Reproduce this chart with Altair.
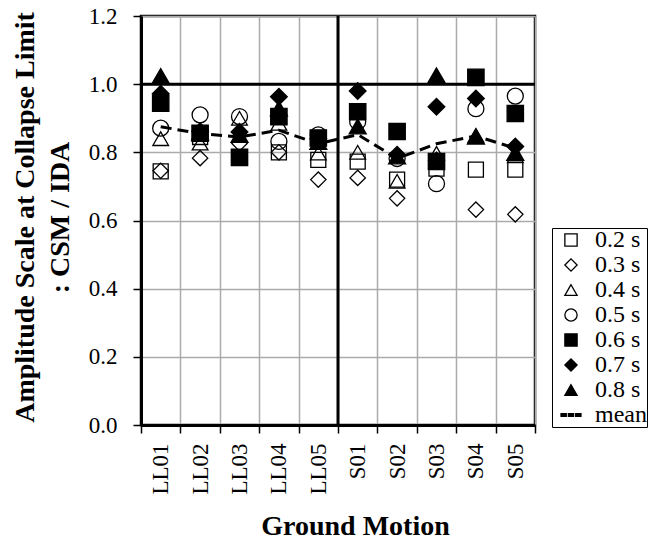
import altair as alt
import pandas as pd

cats = ["LL01", "LL02", "LL03", "LL04", "LL05", "S01", "S02", "S03", "S04", "S05"]
series = ["0.2 s", "0.3 s", "0.4 s", "0.5 s", "0.6 s", "0.7 s", "0.8 s"]

v02 = [0.744, 0.845, 0.785, 0.800, 0.778, 0.773, 0.720, 0.752, 0.749, 0.749]
v03 = [0.746, 0.783, 0.826, 0.800, 0.720, 0.725, 0.665, 0.778, 0.632, 0.618]
v04 = [0.840, 0.827, 0.900, 0.885, 0.798, 0.800, 0.715, 0.797, 0.850, 0.790]
v05 = [0.871, 0.910, 0.905, 0.832, 0.851, 0.890, 0.782, 0.708, 0.928, 0.965]
v06 = [0.944, 0.856, 0.785, 0.905, 0.842, 0.919, 0.861, 0.773, 1.020, 0.914]
v07 = [0.972, 0.862, 0.860, 0.963, 0.840, 0.980, 0.793, 0.934, 0.958, 0.817]
v08 = [1.024, 0.858, 0.851, 0.929, 0.830, 0.876, 0.788, 1.026, 0.846, 0.798]
mean_vals = [0.875, 0.855, 0.845, 0.865, 0.825, 0.852, 0.782, 0.825, 0.848, 0.812]

y_ticks = [0.0, 0.2, 0.4, 0.6, 0.8, 1.0, 1.2]
divider_cat = ["S01"]
ref_level = [1.0]

rows = []
for s, vals in zip(series, [v02, v03, v04, v05, v06, v07, v08]):
    for c, v in zip(cats, vals):
        rows.append({"cat": c, "series": s, "value": v})
pts = pd.DataFrame(rows)
mean_df = pd.DataFrame({"cat": cats, "value": mean_vals})
div_df = pd.DataFrame({"cat": divider_cat})
ref_df = pd.DataFrame({"value": ref_level})

FONT = "Liberation Serif"
legend_domain = series + ["mean"]
dash_path = ("M-1.63,-0.21H-0.77V0.21H-1.63Z "
             "M-0.43,-0.21H0.43V0.21H-0.43Z "
             "M0.77,-0.21H1.63V0.21H0.77Z")
shapes = ["square", "diamond", "triangle-up", "circle",
          "square", "diamond", "triangle-up", dash_path]
fills = ["transparent"] * 4 + ["black"] * 3 + ["black"]
strokes = ["black"] * 8
sizes = [225, 289, 272, 196, 196, 256, 279]

xscale = alt.Scale(type="band", domain=cats, paddingInner=0, paddingOuter=0)
yscale = alt.Scale(domain=[0, 1.2], nice=False)

x_axis = alt.Axis(
    labelAngle=-90, tickBand="extent", grid=True, gridColor="#ababab", gridWidth=1.5,
    domainColor="black", domainWidth=3, tickColor="black", tickWidth=1.5, tickSize=8,
    labelFont=FONT, labelFontSize=23, labelColor="black", labelPadding=10,
    titleFont=FONT, titleFontSize=28, titleFontWeight="bold", titleColor="black",
    titleX=214, titleY=109, titleBaseline="alphabetic", titleAlign="center",
)
y_axis = alt.Axis(
    values=y_ticks, format=".1f", grid=True, gridColor="#ababab", gridWidth=1.5,
    domainColor="black", domainWidth=3, tickColor="black", tickWidth=1.5, tickSize=8,
    labelFont=FONT, labelFontSize=23, labelColor="black", labelPadding=16,
    titleFont=FONT, titleFontSize=28, titleFontWeight="bold", titleColor="black",
    titleLineHeight=35, titleX=-108, titleY=201, titleAngle=270,
    titleBaseline="alphabetic", titleAlign="center",
)

leg = alt.Legend(
    title=None, orient="none", legendX=411, legendY=212,
    strokeColor="black", fillColor="white", padding=0,
    symbolSize=150, symbolStrokeWidth=1.3,
    symbolOffset=7, labelOffset=12, rowPadding=1,
    labelFont=FONT, labelFontSize=24, labelColor="black",
    labelExpr="datum.label + '\u00a0\u00a0\u00a0'",
)

x_title = "Ground Motion"
y_title = ["Amplitude Scale at Collapse Limit", ": CSM / IDA"]

x_main = alt.X("cat:N", scale=xscale, sort=cats, title=x_title, axis=x_axis)
y_main = alt.Y("value:Q", scale=yscale, title=y_title, axis=y_axis)

grid_layer = alt.Chart(mean_df).mark_point(opacity=0).encode(x=x_main, y=y_main)

hrule = alt.Chart(ref_df).mark_rule(color="black", strokeWidth=3).encode(
    y=alt.Y("value:Q", scale=yscale, title=y_title, axis=y_axis)
)
vrule = alt.Chart(div_df).mark_rule(color="black", strokeWidth=3).encode(
    x=alt.X("cat:N", scale=xscale, sort=cats, bandPosition=0, title=x_title, axis=x_axis)
)

mean_line = alt.Chart(mean_df).mark_line(
    color="black", strokeWidth=3, strokeDash=[11, 6]
).encode(x=x_main, y=y_main)

points = alt.Chart(pts).mark_point(
    strokeWidth=1.3, opacity=1
).encode(
    x=x_main,
    y=y_main,
    shape=alt.Shape("series:N", scale=alt.Scale(domain=legend_domain, range=shapes), legend=leg),
    fill=alt.Fill("series:N", scale=alt.Scale(domain=legend_domain, range=fills), legend=leg),
    stroke=alt.Stroke("series:N", scale=alt.Scale(domain=legend_domain, range=strokes), legend=leg),
    size=alt.Size("series:N", scale=alt.Scale(domain=series, range=sizes), legend=None),
)

chart = alt.layer(grid_layer, hrule, vrule, mean_line, points).properties(
    width=394, height=409,
    padding={"left": 133, "top": 8, "right": 117, "bottom": 113},
    autosize=alt.AutoSizeParams(type="none"),
).configure(font=FONT).configure_view(stroke="black", strokeWidth=2.5)

chart.save("out.html", embed_options={"renderer": "svg", "actions": False})
